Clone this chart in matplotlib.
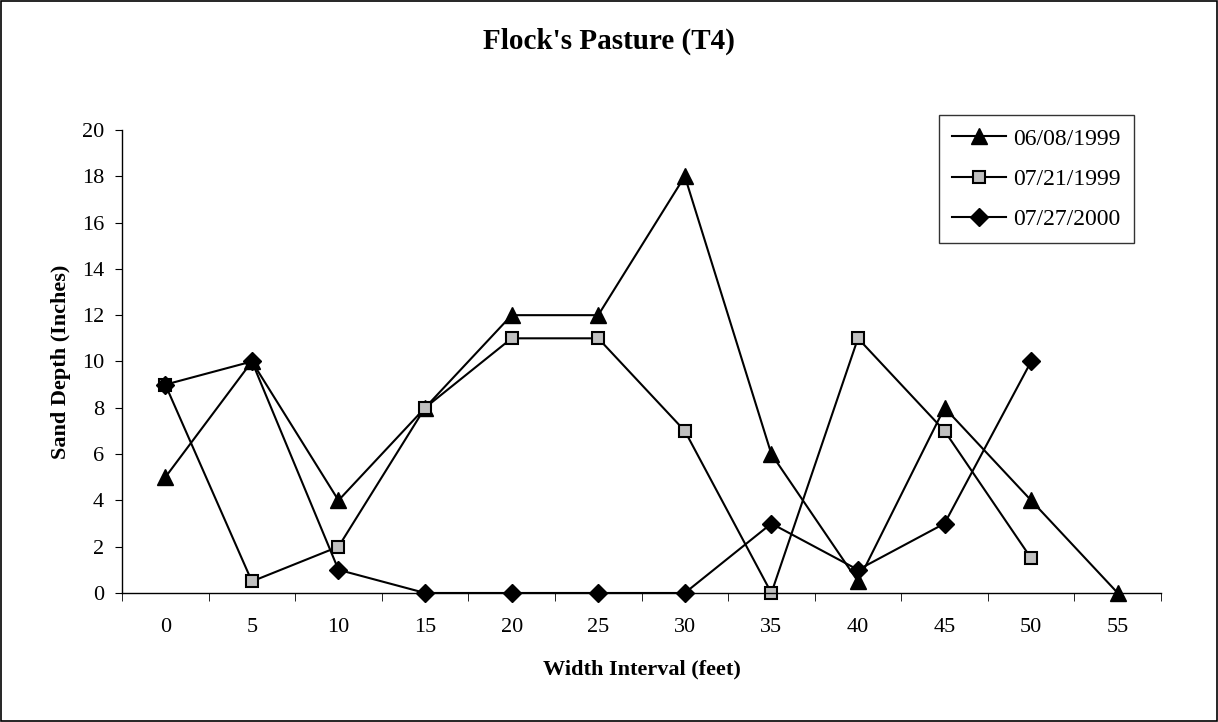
import matplotlib.pyplot as plt
import numpy as np

categories = ["0", "5", "10", "15", "20", "25", "30", "35", "40", "45", "50", "55"]
d_060899 = [5, 10, 4, 8, 12, 12, 18, 6, 0.5, 8, 4, 0]
d_072199 = [9, 0.5, 2, 8, 11, 11, 7, 0, 11, 7, 1.5]
d_072700 = [9, 10, 1, 0, 0, 0, 0, 3, 1, 3, 10]
series_names = ["06/08/1999", "07/21/1999", "07/27/2000"]

plt.rcParams['font.family'] = ['Liberation Serif', 'DejaVu Serif']

fig = plt.figure(figsize=(12.18, 7.22), dpi=100)
ax = fig.add_axes([0.1002, 0.1787, 0.8530, 0.6413])

x = np.arange(len(categories))
ax.plot(x[:len(d_060899)], d_060899, color='black', lw=1.5, marker='^', ms=11,
        mfc='black', mec='black', label=series_names[0])
ax.plot(x[:len(d_072199)], d_072199, color='black', lw=1.5, marker='s', ms=8,
        mfc='#c0c0c0', mec='black', mew=1.5, label=series_names[1])
ax.plot(x[:len(d_072700)], d_072700, color='black', lw=1.5, marker='D', ms=9.5,
        mfc='black', mec='black', label=series_names[2])

ax.set_xlim(-0.5, len(categories) - 0.5)
ax.set_ylim(0, 20)
ax.set_yticks(range(0, 21, 2))
ax.set_xticks(x)
ax.set_xticklabels(categories)
ax.set_xticks(np.arange(-0.5, len(categories)), minor=True)
ax.tick_params(axis='x', which='major', length=0, pad=18, labelsize=16)
ax.tick_params(axis='x', which='minor', length=6, direction='out')
ax.tick_params(axis='y', length=5, direction='out', labelsize=16, pad=8)
ax.spines['top'].set_visible(False)
ax.spines['right'].set_visible(False)
for s in ['left', 'bottom']:
    ax.spines[s].set_linewidth(1.0)
for line in ax.lines:
    line.set_clip_on(False)

ax.set_xlabel("Width Interval (feet)", fontsize=16, fontweight='bold', labelpad=16)
ax.set_ylabel("Sand Depth (Inches)", fontsize=16, fontweight='bold', labelpad=8)
fig.text(0.5, 0.943, "Flock's Pasture (T4)", ha='center', va='center',
         fontsize=21, fontweight='bold')

leg = fig.legend(loc='upper right', bbox_to_anchor=(1134 / 1218, 1 - 115 / 722),
                 frameon=True, fancybox=False, edgecolor='black', fontsize=17,
                 handlelength=2.3, handletextpad=0.3, labelspacing=0.8,
                 borderpad=0.55, borderaxespad=0)
leg.get_frame().set_linewidth(1.0)

fig.patches.append(plt.Rectangle((0.0008, 0.0014), 0.9984, 0.9972, transform=fig.transFigure,
                                 fill=False, edgecolor='black', lw=1.2))

fig.savefig("out.png", dpi=100)
